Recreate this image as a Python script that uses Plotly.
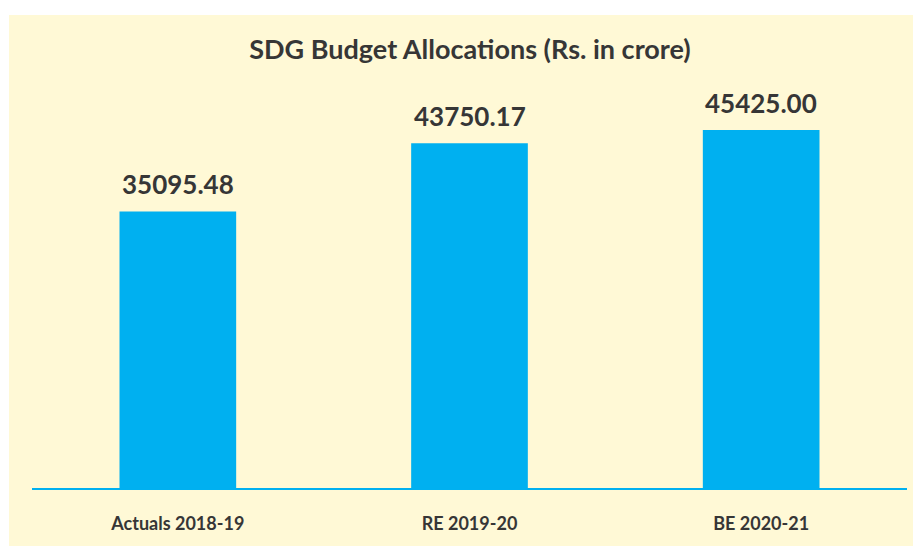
import plotly.graph_objects as go

categories = ["Actuals 2018-19", "RE 2019-20", "BE 2020-21"]
values = [35095.48, 43750.17, 45425.00]
value_labels = ["35095.48", "43750.17", "45425.00"]
title_text = "SDG Budget Allocations (Rs. in crore)"

BAR = "#00B0F0"
TXT = "#363636"
BG = "#FFF9D6"
FONT = "Lato"

# the page body adds an 8px margin, so the figure is drawn offset by (8, 8)
OFF = 8
W, H = 921 - OFF, 548 - OFF

fig = go.Figure()
fig.add_trace(go.Bar(x=categories, y=values, marker=dict(color=BAR, line=dict(width=0)),
                     width=0.4, hoverinfo="skip"))

for c, v, t in zip(categories, values, value_labels):
    fig.add_annotation(x=c, y=v, text=f"<b>{t}</b>", showarrow=False, yanchor="bottom",
                       yshift=9, font=dict(family=FONT, size=26, color=TXT))

L, R = 32 - OFF, 921 - 907
T, B = 94 - OFF, 548 - 488
PW, PH = W - L - R, H - T - B

fig.add_shape(type="rect", xref="paper", yref="paper",
              x0=(9 - 32) / PW, x1=(921 - 32) / PW,
              y0=(488 - 546) / PH, y1=(488 - 15) / PH,
              fillcolor=BG, line=dict(width=0), layer="below")

fig.update_layout(
    width=W, height=H,
    margin=dict(l=L, r=R, t=T, b=B),
    paper_bgcolor="white", plot_bgcolor="rgba(0,0,0,0)",
    showlegend=False,
    title=dict(text=f"<b>{title_text}</b>", x=(470 - 32) / PW, xref="paper", xanchor="center",
               y=1 - (50 - OFF) / H, yanchor="middle", yref="container",
               font=dict(family=FONT, size=27, color=TXT)),
    bargap=0.6,
)
fig.update_xaxes(showline=True, linecolor=BAR, linewidth=2, showgrid=False, zeroline=False,
                 ticks="", ticklabelstandoff=18,
                 tickfont=dict(family=FONT, size=18, color=TXT),
                 tickvals=categories, ticktext=[f"<b>{c}</b>" for c in categories])
fig.update_yaxes(range=[0, 50000], visible=False, showgrid=False, zeroline=False)

fig.write_html("out.html")
